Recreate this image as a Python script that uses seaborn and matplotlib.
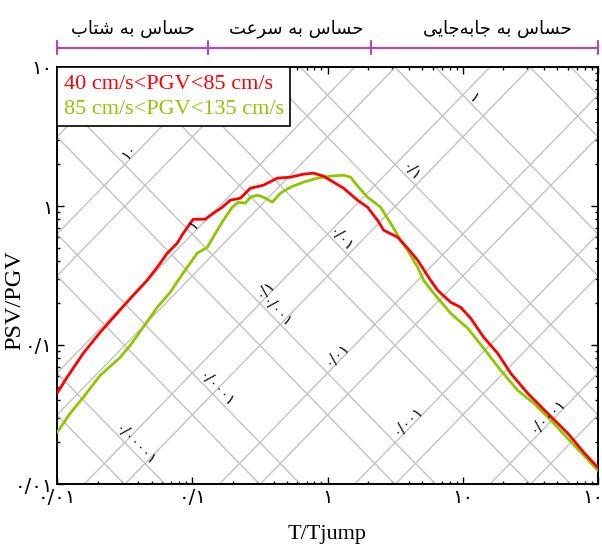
import numpy as np
import pandas as pd
import matplotlib
matplotlib.use("Agg")
import matplotlib.pyplot as plt
import matplotlib.transforms as mtransforms
from matplotlib.lines import Line2D
from matplotlib.font_manager import FontProperties
import seaborn as sns

# ---------------- data ----------------
period_red = [0.0100, 0.01186, 0.01560, 0.02084, 0.02783, 0.03655, 0.0464, 0.0551, 0.0653, 0.0774,
              0.0858, 0.1017, 0.1248, 0.1432, 0.1668, 0.1910, 0.2270, 0.2692, 0.3358, 0.4266,
              0.5322, 0.6637, 0.7876, 0.9333, 1.108, 1.314, 1.668, 1.978, 2.344, 2.599,
              3.300, 3.914, 4.642, 5.79, 6.53, 8.15, 9.66, 11.46, 14.31, 18.16,
              22.68, 30.30, 42.6, 59.9, 78.7, 100]
psv_red = [0.0448, 0.0585, 0.0869, 0.1233, 0.169, 0.2276, 0.2918, 0.3623, 0.457, 0.540,
           0.637, 0.803, 0.803, 0.887, 0.980, 1.101, 1.138, 1.343, 1.412, 1.587,
           1.612, 1.694, 1.723, 1.640, 1.484, 1.343, 1.101, 0.980, 0.790, 0.670,
           0.596, 0.497, 0.407, 0.2918, 0.2473, 0.2028, 0.1866, 0.1555, 0.1135, 0.0869,
           0.0624, 0.0448, 0.0321, 0.0231, 0.01683, 0.0131]

period_green = [0.0100, 0.01248, 0.01560, 0.02084, 0.02929, 0.03474, 0.04337, 0.0551, 0.06873, 0.0787,
                0.0918, 0.1089, 0.1292, 0.1532, 0.1697, 0.1978, 0.2192, 0.2469, 0.2692, 0.3030,
                0.3358, 0.3914, 0.4487, 0.5322, 0.6637, 0.8436, 1.0525, 1.314, 1.480, 1.697,
                1.978, 2.470, 2.929, 3.473, 3.914, 4.642, 5.14, 6.10, 8.15, 10.89,
                14.31, 19.12, 25.55, 33.6, 44.9, 59.9, 78.7, 100]
psv_green = [0.02344, 0.0321, 0.0419, 0.0604, 0.0814, 0.0993, 0.1340, 0.1866, 0.2393, 0.2918,
             0.3623, 0.457, 0.505, 0.670, 0.790, 0.980, 1.065, 1.048, 1.157, 1.196,
             1.157, 1.065, 1.236, 1.366, 1.484, 1.587, 1.640, 1.667, 1.612, 1.366,
             1.157, 0.980, 0.752, 0.567, 0.480, 0.3623, 0.2918, 0.2355, 0.169, 0.1318,
             0.0945, 0.0656, 0.0471, 0.0380, 0.0287, 0.0212, 0.01603, 0.01249]

series_labels = ["40 cm/s<PGV<85 cm/s", "85 cm/s<PGV<135 cm/s"]
series_colors = ["#ff0000", "#8cc800"]

x_ticks = [0.01, 0.1, 1, 10, 100]
y_ticks = [0.01, 0.1, 1, 10]

region_names = ["حساس به شتاب", "حساس به سرعت", "حساس به جابه‌جایی"]
region_bounds = [0.01, 0.13, 2.1, 100]
region_label_T = [0.0365, 0.59, 18.2]

# tripartite grid: lines at m * 10^k (scaled by 2*pi)
grid_multipliers = [1, 5]
grid_decades = list(range(-7, 4))
# labelled decade lines: (decade exponent k, T position of label)
disp_label_k = [1, 0, -1, -2, -3, -4]
disp_label_T = [12.06, 4.12, 1.248, 0.419, 0.1507, 0.0378]
acc_label_k = [1, 0, -1, -2, -3, -4]
acc_label_T = [0.0341, 0.1017, 0.3473, 1.186, 3.914, 42.6]

# ---------------- helpers ----------------
FA_DIGITS = str.maketrans("0123456789", "۰۱۲۳۴۵۶۷۸۹")


def fa_num(val):
    s = f"{val:.10f}".rstrip("0").rstrip(".")
    return s.replace(".", "/").translate(FA_DIGITS)


# (isolated, final, initial, medial)
FORMS = {
    "ا": ("\uFE8D", "\uFE8E", None, None),
    "ب": ("\uFE8F", "\uFE90", "\uFE91", "\uFE92"),
    "ت": ("\uFE95", "\uFE96", "\uFE97", "\uFE98"),
    "ج": ("\uFE9D", "\uFE9E", "\uFE9F", "\uFEA0"),
    "ح": ("\uFEA1", "\uFEA2", "\uFEA3", "\uFEA4"),
    "ر": ("\uFEAD", "\uFEAE", None, None),
    "س": ("\uFEB1", "\uFEB2", "\uFEB3", "\uFEB4"),
    "ش": ("\uFEB5", "\uFEB6", "\uFEB7", "\uFEB8"),
    "ع": ("\uFEC9", "\uFECA", "\uFECB", "\uFECC"),
    "ه": ("\uFEE9", "\uFEEA", "\uFEEB", "\uFEEC"),
    "ی": ("\uFEEF", "\uFEF0", "\uFEF3", "\uFEF4"),
}


def shape_fa(text):
    out = []
    n = len(text)
    for i, ch in enumerate(text):
        if ch == "\u200c":
            continue
        if ch not in FORMS:
            out.append(ch)
            continue
        prev = text[i - 1] if i > 0 else None
        nxt = text[i + 1] if i < n - 1 else None
        jp = prev in FORMS and FORMS[prev][2] is not None
        jn = FORMS[ch][2] is not None and nxt in FORMS
        iso, fin, ini, med = FORMS[ch]
        if jp and jn:
            out.append(med)
        elif jp:
            out.append(fin)
        elif jn:
            out.append(ini)
        else:
            out.append(iso)
    return "".join(reversed(out))


# ---------------- plot ----------------
sns.set_theme(style="white")
plt.rcParams["font.family"] = ["DejaVu Sans"]
plt.rcParams["axes.unicode_minus"] = False

fig = plt.figure(figsize=(6.02, 5.46), dpi=100)
ax = fig.add_axes([57 / 602, 1 - 484 / 546, 541 / 602, 417 / 546])

LOG2PI = np.log10(2 * np.pi)
t_span = np.array([1e-3, 1e3])
for k in grid_decades:
    for m in grid_multipliers:
        c = np.log10(m) + k + LOG2PI
        ax.plot(t_span, 10 ** (c + np.log10(t_span)), color="#c2c2c2", lw=1.0, zorder=1)
        ax.plot(t_span, 10 ** (c - np.log10(t_span)), color="#c2c2c2", lw=1.0, zorder=1)

df = pd.DataFrame({
    "T": period_red + period_green,
    "PSV": psv_red + psv_green,
    "series": [series_labels[0]] * len(period_red) + [series_labels[1]] * len(period_green),
})
sns.lineplot(data=df, x="T", y="PSV", hue="series", hue_order=series_labels[::-1],
             palette=dict(zip(series_labels, series_colors)), estimator=None, sort=False,
             lw=2.0, legend=False, ax=ax, zorder=3)

ax.set_xscale("log")
ax.set_yscale("log")

# labels on grid lines
for k, t in zip(disp_label_k, disp_label_T):
    c = k + LOG2PI
    y = 10 ** (c - np.log10(t) + 0.055)
    ax.text(t, y, fa_num(10.0 ** (k - 1)), rotation=-45, rotation_mode="anchor",
            ha="center", va="center", fontsize=10.5, color="black", zorder=4)
for k, t in zip(acc_label_k, acc_label_T):
    c = k + LOG2PI
    y = 10 ** (c + np.log10(t) + 0.065)
    ax.text(t, y, fa_num(10.0 ** k), rotation=45, rotation_mode="anchor",
            ha="center", va="center", fontsize=10.5, color="black", zorder=4)

ax.set_xlim(0.01, 100)
ax.set_ylim(0.01, 10)
ax.set_autoscale_on(False)

ax.set_xticks(x_ticks)
ax.set_xticklabels([fa_num(v) for v in x_ticks])
ax.set_yticks(y_ticks)
ax.set_yticklabels([fa_num(v) for v in y_ticks])
ax.xaxis.set_minor_locator(matplotlib.ticker.LogLocator(base=10, subs=np.arange(2, 10)))
ax.yaxis.set_minor_locator(matplotlib.ticker.LogLocator(base=10, subs=np.arange(2, 10)))
ax.xaxis.set_minor_formatter(matplotlib.ticker.NullFormatter())
ax.yaxis.set_minor_formatter(matplotlib.ticker.NullFormatter())
ax.tick_params(which="both", direction="in", top=True, right=True, bottom=True, left=True,
               color="black", width=1.0, labelsize=14, labelcolor="black")
ax.tick_params(which="major", length=5, pad=3)
ax.tick_params(which="minor", length=2.5)
for sp in ax.spines.values():
    sp.set_visible(True)
    sp.set_color("black")
    sp.set_linewidth(1.4)
ax.grid(False)

serif = FontProperties(family="Liberation Serif", size=16)
ax.set_xlabel("T/Tjump", fontproperties=serif, color="black")
ax.xaxis.set_label_coords(0.5, -0.122)
ax.xaxis.label.set_va("center")
ax.set_ylabel("PSV/PGV", fontproperties=FontProperties(family="Liberation Serif", size=17.5),
              color="black")
ax.yaxis.set_label_coords(-0.078, 0.44)
ax.yaxis.label.set_va("center")

handles = [Line2D([], [], lw=0, color=c) for c in series_colors]
leg = ax.legend(handles, series_labels, loc="upper left", borderaxespad=0, handlelength=0,
                handletextpad=0, frameon=True, fancybox=False, edgecolor="black",
                framealpha=1, prop=serif, borderpad=0.3, labelspacing=0.2)
leg.get_frame().set_linewidth(1.2)
for txt, col in zip(leg.get_texts(), series_colors):
    txt.set_color(col)

# region bracket on top
purple = "#b04cb0"
trans = mtransforms.blended_transform_factory(ax.transData, ax.transAxes)
ax.plot([region_bounds[0], region_bounds[-1]], [1.0456, 1.0456], transform=trans,
        color=purple, lw=1.6, clip_on=False)
for b in region_bounds:
    ax.plot([b, b], [1.030, 1.062], transform=trans, color=purple, lw=1.6, clip_on=False)
for name, tx in zip(region_names, region_label_T):
    ax.text(tx, 1.091, shape_fa(name), transform=trans, ha="center",
            va="center", fontsize=13, color="black")

fig.savefig("out.png", dpi=100)
